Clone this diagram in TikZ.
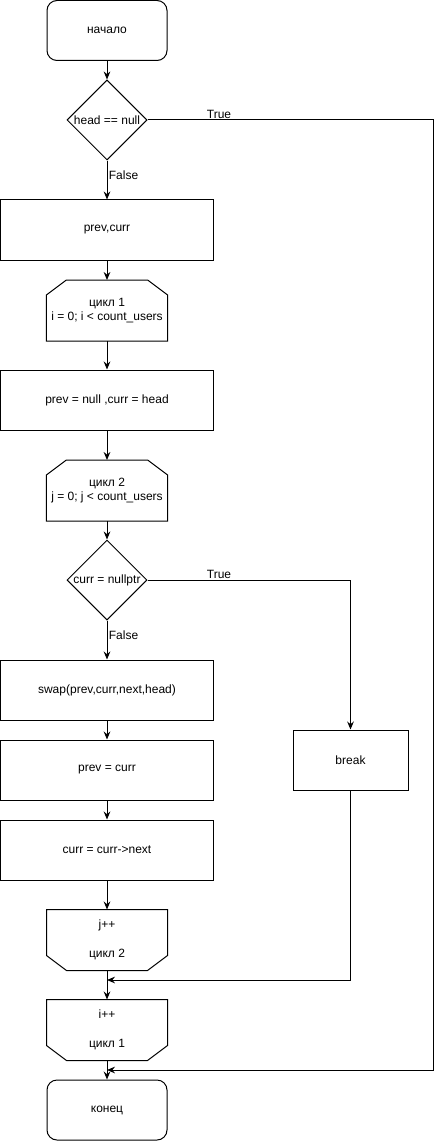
\documentclass[tikz,border=0pt]{standalone}
\usepackage{fontspec}
\setmainfont{Liberation Sans}
\usetikzlibrary{arrows.meta,shapes.geometric,positioning,calc}

\begin{document}
\begin{tikzpicture}[x=0.75pt,y=-0.75pt,
		font=\fontsize{9}{11}\selectfont,
		line width=0.75pt,
		arrow/.style={-{Stealth[length=6pt,width=5pt,inset=2pt]}},
		term/.style={draw,rounded corners=7.5pt,minimum width=90pt,minimum height=45pt},
		proc/.style={draw,minimum width=159.75pt,minimum height=45pt},
		cond/.style={draw,diamond,minimum size=60pt,inner sep=-1pt},
		loopbox/.style={minimum width=90pt,minimum height=45pt,align=center}]
		\useasboundingbox (0,0) rectangle (443,1141);
		
		% main column
		\node[term] (start) at (107,30.5) {начало};
		\node[cond] (d1) at (107,120) {head == null};
		\node[proc] (init) at (107,230) {prev,curr};
		\node[loopbox] (lp1) at (107,310.5) {цикл 1\\i = 0; i < count\_users};
		\node[proc] (reset) at (107,400) {prev = null ,curr = head};
		\node[loopbox] (lp2) at (107,490.5) {цикл 2\\j = 0; j < count\_users};
		\node[cond] (d2) at (107,580) {curr = nullptr};
		\node[proc] (swap) at (107,690) {swap(prev,curr,next,head)};
		\node[proc] (pc) at (107,770) {prev = curr};
		\node[proc] (cn) at (107,850) {curr = curr->next};
		\node[loopbox] (lp2e) at (107,940) {j++\\[11pt]цикл 2};
		\node[loopbox] (lp1e) at (107,1030) {i++\\[11pt]цикл 1};
		\node[term] (end) at (107,1110) {конец};
		
		% loop outlines (cut corners)
		\foreach \n in {lp1,lp2}
			\draw ($(\n.north west)+(0,15)$) -- ($(\n.north west)+(20,0)$) -- ($(\n.north east)+(-20,0)$)
				-- ($(\n.north east)+(0,15)$) -- (\n.south east) -- (\n.south west) -- cycle;
		\foreach \n in {lp2e,lp1e}
			\draw ($(\n.south west)+(0,-15)$) -- ($(\n.south west)+(20,0)$) -- ($(\n.south east)+(-20,0)$)
				-- ($(\n.south east)+(0,-15)$) -- (\n.north east) -- (\n.north west) -- cycle;
		
		% side branch
		\node[proc,minimum width=86.25pt] (brk) at (350.5,760) {break};
		\coordinate (rt) at (433,1070);
		\coordinate (jn) at (107,980);
		
		% connectors
		\draw[arrow] (start) -- (d1);
		\draw[arrow] (d1) -- (init);
		\draw[arrow] (init) -- (lp1);
		\draw[arrow] (lp1) -- (reset);
		\draw[arrow] (reset) -- (lp2);
		\draw[arrow] (lp2) -- (d2);
		\draw[arrow] (d2) -- (swap);
		\draw[arrow] (swap) -- (pc);
		\draw[arrow] (pc) -- (cn);
		\draw[arrow] (cn) -- (lp2e);
		\draw[arrow] (lp2e) -- (lp1e);
		\draw[arrow] (lp1e) -- (end);
		\draw[arrow] (d1.east) -| (rt) -- (rt -| end.north);
		\draw[arrow] (d2.east) -| (brk.north);
		\draw[arrow] (brk.south) |- (jn);
		
		% branch labels
		\node[inner sep=1pt,anchor=south] (t1) at (219,120) {True};
		\node[inner sep=1pt,anchor=west] (f1) at (107,175) {False};
		\node[inner sep=1pt,anchor=south] (t2) at (219,580) {True};
		\node[inner sep=1pt,anchor=west] (f2) at (107,635) {False};
	\end{tikzpicture}
\end{document}
